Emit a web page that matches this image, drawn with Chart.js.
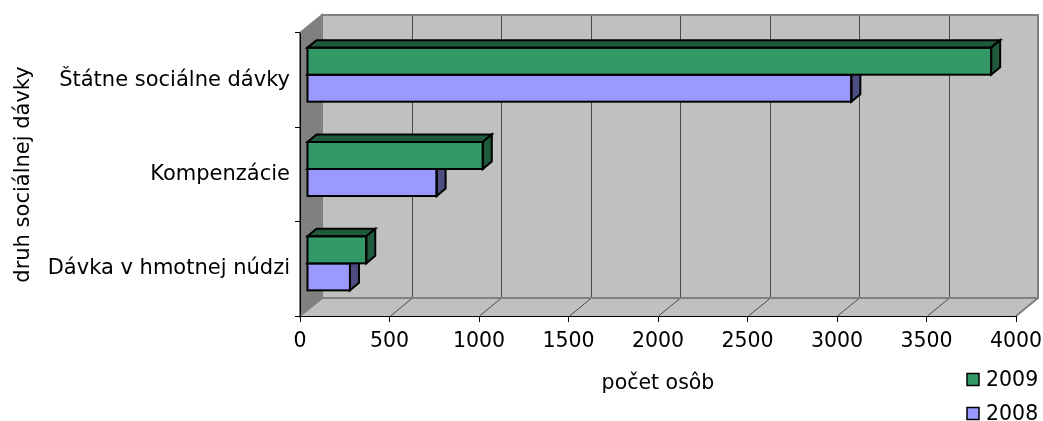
<!DOCTYPE html>
<html>
<head>
<meta charset="utf-8">
<style>
html,body{margin:0;padding:0;background:#ffffff;}
#wrap{width:1043px;height:421px;position:relative;}
</style>
<script src="https://cdn.jsdelivr.net/npm/chart.js@4.4.1/dist/chart.umd.min.js"></script>
</head>
<body>
<div id="wrap"><canvas id="c" width="1043" height="421"></canvas></div>
<script>
// ---- data ----
const categories = ['Štátne sociálne dávky', 'Kompenzácie', 'Dávka v hmotnej núdzi'];
const seriesLabels = ['2009', '2008'];
const values2009 = [3822, 982, 331];
const values2008 = [3041, 724, 240];
const xTickValues = [0, 500, 1000, 1500, 2000, 2500, 3000, 3500, 4000];
const xTickLabels = ['0', '500', '1000', '1500', '2000', '2500', '3000', '3500', '4000'];
const xAxisTitle = 'počet osôb';
const yAxisTitle = 'druh sociálnej dávky';

// ---- style ----
const FONT = 'DejaVu Sans';
const FS = 20.5;
const frontColors = ['#339966', '#9999ff'];
const sideColors = ['#1e5a3b', '#4d4d82'];
const WALL_DX = 22, WALL_DY = 18;   // depth of the 3-D box
const BAR_OX = 7, BAR_OY = 5.5;     // bar plane offset from front plane
const BAR_DX = 9, BAR_DY = 7.5;     // bar depth

function poly(ctx, pts) {
  ctx.beginPath();
  ctx.moveTo(pts[0][0], pts[0][1]);
  for (let i = 1; i < pts.length; i++) ctx.lineTo(pts[i][0], pts[i][1]);
  ctx.closePath();
}

const threeD = {
  id: 'threeD',
  beforeDraw(chart) {
    const ctx = chart.ctx, a = chart.chartArea, x = chart.scales.x;
    const L = a.left, R = a.right, T = a.top, B = a.bottom;
    ctx.save();
    // back wall
    ctx.fillStyle = '#c0c0c0';
    ctx.fillRect(L + WALL_DX, T - WALL_DY, R - L, B - T);
    // left wall
    ctx.fillStyle = '#808080';
    poly(ctx, [[L, T], [L + WALL_DX, T - WALL_DY], [L + WALL_DX, B - WALL_DY], [L, B]]);
    ctx.fill();
    // floor
    ctx.fillStyle = '#c0c0c0';
    poly(ctx, [[L, B], [L + WALL_DX, B - WALL_DY], [R + WALL_DX, B - WALL_DY], [R, B]]);
    ctx.fill();
    // gridlines on back wall and floor
    ctx.strokeStyle = '#4a4a4a';
    ctx.lineWidth = 1;
    x.ticks.forEach(t => {
      const px = Math.round(x.getPixelForValue(t.value)) + 0.5;
      if (t.value > x.min && t.value < x.max) {
        ctx.beginPath();
        ctx.moveTo(px + WALL_DX, T - WALL_DY);
        ctx.lineTo(px + WALL_DX, B - WALL_DY);
        ctx.lineTo(px, B);
        ctx.stroke();
      }
    });
    // wall outlines
    ctx.strokeStyle = '#808080';
    ctx.lineWidth = 2;
    ctx.strokeRect(L + WALL_DX, T - WALL_DY, R - L, B - T);
    poly(ctx, [[L, T], [L + WALL_DX, T - WALL_DY], [L + WALL_DX, B - WALL_DY], [L, B]]);
    ctx.stroke();
    ctx.beginPath();
    ctx.moveTo(R, B);
    ctx.lineTo(R + WALL_DX, B - WALL_DY);
    ctx.stroke();
    ctx.restore();
  },
  beforeDatasetDraw(chart) {
    chart.ctx.save();
    chart.ctx.translate(BAR_OX, -BAR_OY);
  },
  afterDatasetDraw(chart, args) {
    const ctx = chart.ctx;
    const side = sideColors[args.index];
    ctx.lineWidth = 2;
    ctx.strokeStyle = '#000000';
    ctx.lineJoin = 'miter';
    args.meta.data.forEach(el => {
      const p = el.getProps(['x', 'y', 'base', 'height'], true);
      const top = p.y - p.height / 2, bot = p.y + p.height / 2;
      ctx.fillStyle = side;
      poly(ctx, [[p.base, top], [p.base + BAR_DX, top - BAR_DY], [p.x + BAR_DX, top - BAR_DY], [p.x, top]]);
      ctx.fill(); ctx.stroke();
      poly(ctx, [[p.x, top], [p.x + BAR_DX, top - BAR_DY], [p.x + BAR_DX, bot - BAR_DY], [p.x, bot]]);
      ctx.fill(); ctx.stroke();
      ctx.strokeRect(p.base, top, p.x - p.base, p.height);
    });
    ctx.restore();
  },
  afterDraw(chart) {
    // legend
    const ctx = chart.ctx;
    ctx.save();
    ctx.font = FS + 'px "' + FONT + '"';
    ctx.textBaseline = 'middle';
    ctx.textAlign = 'left';
    chart.data.datasets.forEach((ds, i) => {
      const cy = 379.5 + i * 34;
      ctx.fillStyle = ds.backgroundColor;
      ctx.fillRect(967, cy - 6, 12, 12);
      ctx.strokeStyle = '#000';
      ctx.lineWidth = 1.5;
      ctx.strokeRect(967, cy - 6, 12, 12);
      ctx.fillStyle = '#000';
      ctx.fillText(ds.label, 986, cy + 1);
    });
    ctx.restore();
  }
};

Chart.defaults.font.family = FONT;
Chart.defaults.font.size = FS;
Chart.defaults.color = '#000';

new Chart(document.getElementById('c'), {
  type: 'bar',
  data: {
    labels: categories,
    datasets: [
      { label: seriesLabels[0], data: values2009, backgroundColor: frontColors[0], borderWidth: 0 },
      { label: seriesLabels[1], data: values2008, backgroundColor: frontColors[1], borderWidth: 0 }
    ]
  },
  options: {
    indexAxis: 'y',
    responsive: false,
    animation: false,
    devicePixelRatio: 1,
    categoryPercentage: 0.573,
    barPercentage: 1,
    layout: { padding: { top: 33, right: 27, left: 0, bottom: 0 } },
    plugins: { legend: { display: false }, tooltip: { enabled: false } },
    scales: {
      x: {
        type: 'linear',
        min: xTickValues[0],
        max: xTickValues[xTickValues.length - 1],
        afterBuildTicks(s) { s.ticks = xTickValues.map(v => ({ value: v })); },
        afterFit(s) { s.height = 105; s.paddingRight = 0; s.paddingLeft = 0; },
        grid: { drawOnChartArea: false, drawTicks: true, tickLength: 6, color: '#000', lineWidth: 1 },
        border: { display: true, color: '#000', width: 1 },
        ticks: {
          padding: 7, maxRotation: 0, autoSkip: false, color: '#000',
          callback(v, i) { return xTickLabels[i]; }
        },
        title: { display: true, text: xAxisTitle, padding: { top: 0, bottom: 25 } }
      },
      y: {
        type: 'category',
        offset: true,
        afterFit(s) { s.width = 300; s.paddingTop = 0; s.paddingBottom = 0; },
        grid: { offset: true, drawOnChartArea: false, drawTicks: true, tickLength: 5, color: '#000', lineWidth: 1 },
        border: { display: true, color: '#000', width: 1 },
        ticks: { padding: 5, color: '#000', autoSkip: false, font: { size: 21 } },
        title: { display: true, text: yAxisTitle, font: { size: 21 }, padding: { top: 11, bottom: 0 } }
      }
    }
  },
  plugins: [threeD]
});
</script>
</body>
</html>
